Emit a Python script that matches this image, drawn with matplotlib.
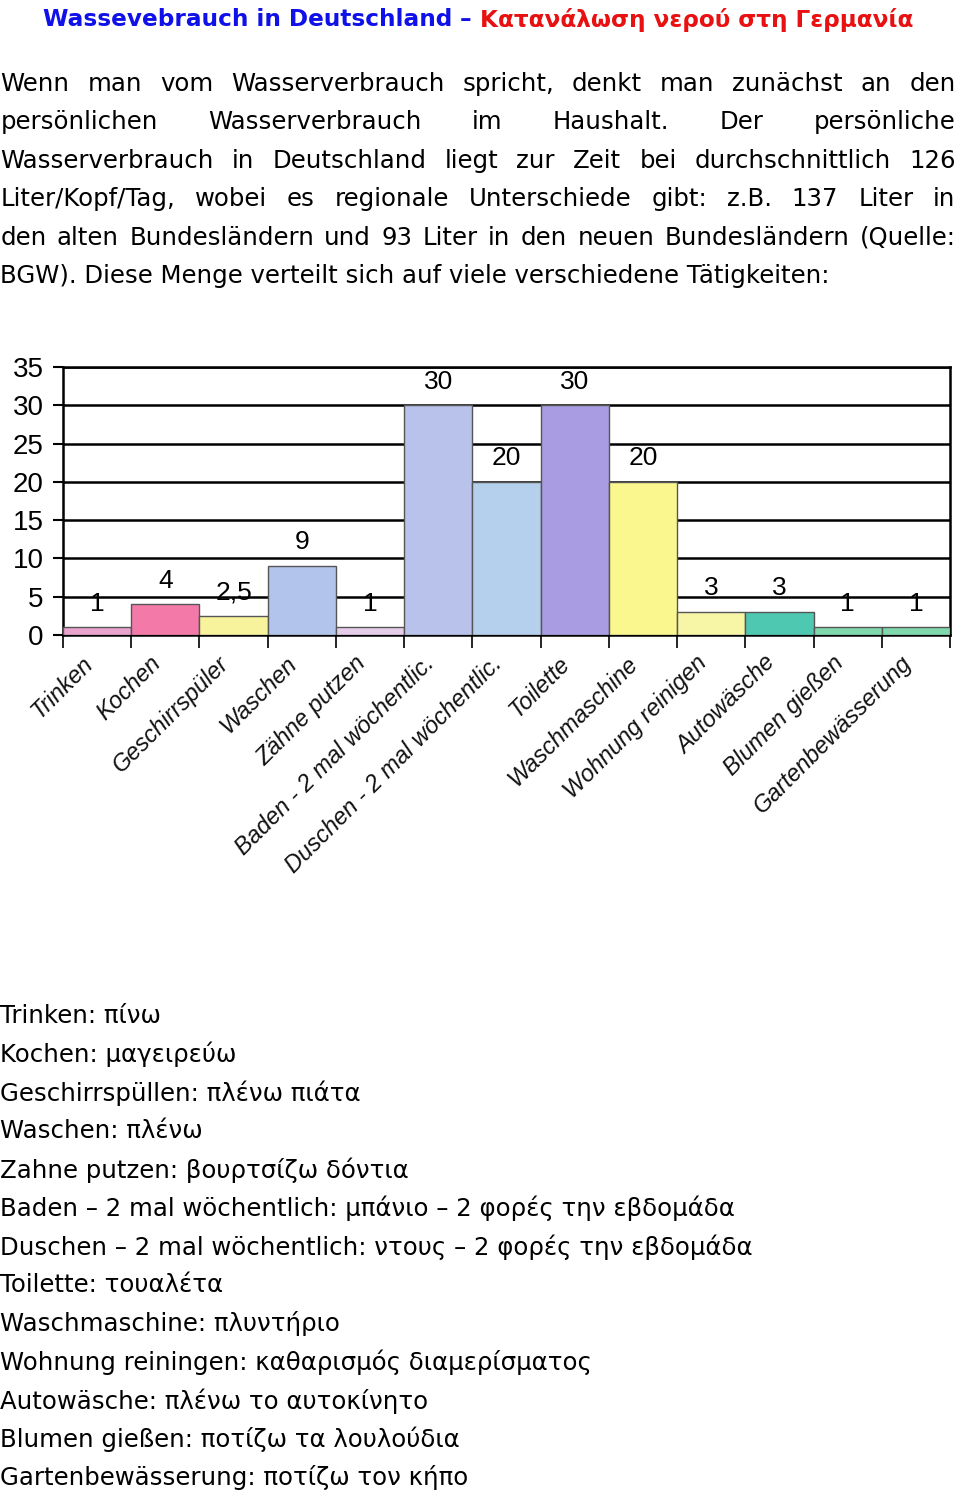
import matplotlib
matplotlib.use("Agg")
import matplotlib.pyplot as plt
import matplotlib.transforms as mtransforms
from matplotlib import font_manager

# Daten
kategorien = ["Trinken", "Kochen", "Geschirrspüler", "Waschen", "Zähne putzen",
              "Baden - 2 mal wöchentlic.", "Duschen - 2 mal wöchentlic.", "Toilette",
              "Waschmaschine", "Wohnung reinigen", "Autowäsche", "Blumen gießen",
              "Gartenbewässerung"]
liter = [1, 4, 2.5, 9, 1, 30, 20, 30, 20, 3, 3, 1, 1]
farben = ["#e9a3cf", "#f37aa8", "#f6f39c", "#b3c4ec", "#e6cde9", "#b9c2ea",
          "#b4d0ec", "#a99ce2", "#faf78e", "#f7f5a6", "#4fc8b2", "#7fd9ad", "#7fd9ad"]
y_ticks = [0, 5, 10, 15, 20, 25, 30, 35]

titel_de = "Wassevebrauch in Deutschland"
titel_gr = "Κατανάλωση νερού στη Γερμανία"

absatz = [
    "Wenn man vom Wasserverbrauch spricht, denkt man zunächst an den",
    "persönlichen Wasserverbrauch im Haushalt. Der persönliche",
    "Wasserverbrauch in Deutschland liegt zur Zeit bei durchschnittlich 126",
    "Liter/Kopf/Tag, wobei es regionale Unterschiede gibt: z.B. 137 Liter in",
    "den alten Bundesländern und 93 Liter in den neuen Bundesländern (Quelle:",
    "BGW). Diese Menge verteilt sich auf viele verschiedene Tätigkeiten:",
]

glossar = [
    "Trinken: πίνω",
    "Kochen: μαγειρεύω",
    "Geschirrspüllen: πλένω πιάτα",
    "Waschen: πλένω",
    "Zahne putzen: βουρτσίζω δόντια",
    "Baden – 2 mal wöchentlich: μπάνιο – 2 φορές την εβδομάδα",
    "Duschen – 2 mal wöchentlich: ντους – 2 φορές την εβδομάδα",
    "Toilette: τουαλέτα",
    "Waschmaschine: πλυντήριο",
    "Wohnung reiningen: καθαρισμός διαμερίσματος",
    "Autowäsche: πλένω το αυτοκίνητο",
    "Blumen gießen: ποτίζω τα λουλούδια",
    "Gartenbewässerung: ποτίζω τον κήπο",
]

W, H = 960, 1496
namen = {f.name for f in font_manager.fontManager.ttflist}
schmal = "Liberation Sans Narrow" if "Liberation Sans Narrow" in namen else "Liberation Sans"
text_font = "DejaVu Sans"

fig = plt.figure(figsize=(W / 100, H / 100), dpi=100)
fig.patch.set_facecolor("white")
r = fig.canvas.get_renderer()


def breite(s, **kw):
    t = fig.text(0, 0, s, **kw)
    b = t.get_window_extent(r).width
    t.remove()
    return b


# Titel
kw_t = dict(fontsize=16.7, fontweight="bold", family=text_font)
teile = [(titel_de, "#1010e8"), (" – ", "#1010e8"), (titel_gr, "#e81010")]
gesamt = sum(breite(s, **kw_t) for s, _ in teile)
x = (478 - gesamt / 2)
for s, c in teile:
    fig.text(x / W, 1 - 20 / H, s, color=c, va="center", ha="left", **kw_t)
    x += breite(s, **kw_t)

# Absatz im Blocksatz
kw_p = dict(fontsize=17.6, family=text_font, color="black")
for i, zeile in enumerate(absatz):
    y = 1 - (84 + i * 38.4) / H
    woerter = zeile.split(" ")
    if i == len(absatz) - 1:
        fig.text(0.5 / W, y, zeile, va="center", ha="left", **kw_p)
        continue
    bw = [breite(w, **kw_p) for w in woerter]
    luecke = (955 - sum(bw)) / (len(woerter) - 1)
    x = 0.5
    for w, b in zip(woerter, bw):
        fig.text(x / W, y, w, va="center", ha="left", **kw_p)
        x += b + luecke

# Diagramm
ax = fig.add_axes([63 / W, 1 - 635 / H, 887 / W, 268 / H])
pos = list(range(len(liter)))
ax.bar(pos, liter, width=1.0, color=farben, edgecolor="#555555", linewidth=1, zorder=3)
ax.set_xlim(-0.5, len(liter) - 0.5)
ax.set_ylim(0, 35)
ax.set_yticks(y_ticks)
ax.set_yticklabels([str(v) for v in y_ticks], fontsize=20, family=schmal)
ax.tick_params(axis="y", length=7, width=1.5, pad=7)
ax.yaxis.grid(True, color="black", linewidth=1.8, zorder=1)
ax.set_axisbelow(True)
for s in ax.spines.values():
    s.set_color("black")
    s.set_linewidth(1.8)

ax.set_xticks(pos)
ax.set_xticklabels(kategorien, rotation=45, ha="right", va="top", rotation_mode="anchor",
                   fontsize=17, family=schmal, style="italic", color="#111111")
ax.tick_params(axis="x", length=0, pad=12)
verschiebung = mtransforms.ScaledTranslation(-0.16, 0, fig.dpi_scale_trans)
for lab in ax.get_xticklabels():
    lab.set_transform(lab.get_transform() + verschiebung)
ax.set_xticks([p - 0.5 for p in pos] + [len(pos) - 0.5], minor=True)
ax.tick_params(axis="x", which="minor", length=9, width=1.2)

for p, v in zip(pos, liter):
    lab = f"{v:g}".replace(".", ",")
    ax.annotate(lab, (p, v), xytext=(0, 17), textcoords="offset points",
                ha="center", va="center", fontsize=19, family=schmal, zorder=4)

# Glossar
for i, zeile in enumerate(glossar):
    y = 1 - (1016 + i * 38.5) / H
    fig.text(0.5 / W, y, zeile, va="center", ha="left", **kw_p)

fig.savefig("out.png", dpi=100, facecolor="white")
